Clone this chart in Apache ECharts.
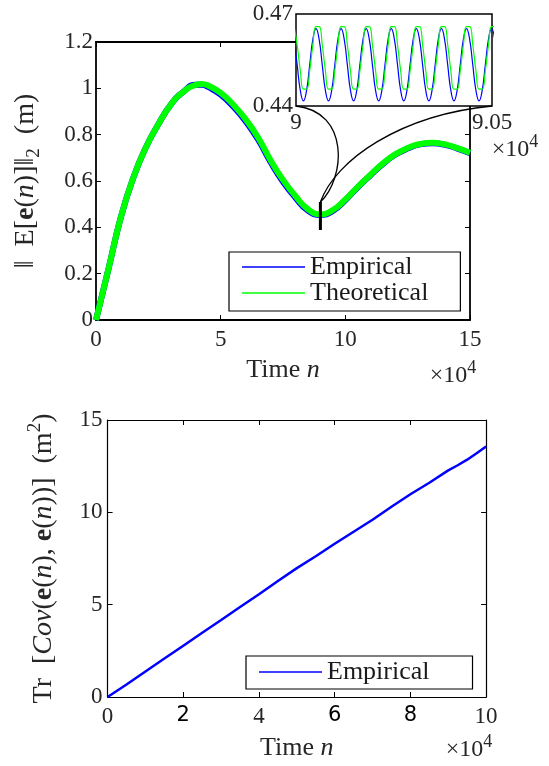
<!DOCTYPE html>
<html><head><meta charset="utf-8">
<script src="https://cdn.jsdelivr.net/npm/echarts@6/dist/echarts.min.js"></script>
<style>html,body{margin:0;padding:0;background:#fff}#c{width:549px;height:766px}</style>
</head><body><div id="c"></div>
<script>
// ---------- data ----------
const mainN = [0, 2500, 5000, 10000, 15000, 20000, 25000, 30000, 35000, 40000, 42500, 45000, 50000, 55000, 60000, 65000, 70000, 75000, 80000, 85000, 90000, 95000, 100000, 105000, 110000, 115000, 120000, 125000, 130000, 135000, 140000, 145000, 150000];
const theoretical = [0, 0.11, 0.22, 0.445, 0.615, 0.745, 0.845, 0.93, 0.985, 1.015, 1.019, 1.012, 0.98, 0.93, 0.867, 0.788, 0.69, 0.605, 0.535, 0.478, 0.456, 0.475, 0.52, 0.575, 0.626, 0.675, 0.715, 0.742, 0.76, 0.765, 0.758, 0.742, 0.722];
const empirical = [0, 0.11, 0.22, 0.445, 0.615, 0.745, 0.845, 0.93, 0.985, 1.016, 1.016, 1.006, 0.973, 0.922, 0.858, 0.779, 0.682, 0.597, 0.528, 0.472, 0.453, 0.471, 0.517, 0.573, 0.624, 0.673, 0.713, 0.74, 0.758, 0.763, 0.756, 0.74, 0.72];

const insetN = [89995, 90003, 90011, 90019, 90027, 90035, 90043, 90051,
  90059, 90067, 90075, 90083, 90091, 90099, 90107, 90115,
  90123, 90131, 90139, 90147, 90155, 90163, 90171, 90179,
  90187, 90195, 90203, 90211, 90219, 90227, 90235, 90243,
  90251, 90259, 90267, 90275, 90283, 90291, 90299, 90307,
  90315, 90323, 90331, 90339, 90347, 90355, 90363, 90371,
  90379, 90387, 90395, 90403, 90411, 90419, 90427, 90435,
  90443, 90451, 90459, 90467, 90475, 90483, 90491, 90499, 90507];
const insetEmpirical = [0.4617, 0.4534, 0.4451, 0.4417, 0.4451, 0.4534, 0.4617, 0.4652,
  0.4617, 0.4534, 0.4451, 0.4417, 0.4451, 0.4534, 0.4617, 0.4652,
  0.4617, 0.4534, 0.4451, 0.4417, 0.4451, 0.4534, 0.4617, 0.4652,
  0.4617, 0.4534, 0.4451, 0.4417, 0.4451, 0.4534, 0.4617, 0.4652,
  0.4617, 0.4534, 0.4451, 0.4417, 0.4451, 0.4534, 0.4617, 0.4652,
  0.4617, 0.4534, 0.4451, 0.4417, 0.4451, 0.4534, 0.4617, 0.4652,
  0.4617, 0.4534, 0.4451, 0.4417, 0.4451, 0.4534, 0.4617, 0.4652,
  0.4617, 0.4534, 0.4451, 0.4417, 0.4451, 0.4534, 0.4617, 0.4652, 0.4617];
const insetTheoretical = [0.4659, 0.4599, 0.4515, 0.4455, 0.4455, 0.4515, 0.4599, 0.4659,
  0.4659, 0.4599, 0.4515, 0.4455, 0.4455, 0.4515, 0.4599, 0.4659,
  0.4659, 0.4599, 0.4515, 0.4455, 0.4455, 0.4515, 0.4599, 0.4659,
  0.4659, 0.4599, 0.4515, 0.4455, 0.4455, 0.4515, 0.4599, 0.4659,
  0.4659, 0.4599, 0.4515, 0.4455, 0.4455, 0.4515, 0.4599, 0.4659,
  0.4659, 0.4599, 0.4515, 0.4455, 0.4455, 0.4515, 0.4599, 0.4659,
  0.4659, 0.4599, 0.4515, 0.4455, 0.4455, 0.4515, 0.4599, 0.4659,
  0.4659, 0.4599, 0.4515, 0.4455, 0.4455, 0.4515, 0.4599, 0.4659, 0.4659];

const zoomMarkN = [90000, 90000];
const zoomMarkV = [0.388, 0.509];

const covN = [0, 5000, 10000, 15000, 20000, 25000, 30000, 35000, 40000, 45000, 50000, 55000, 60000, 65000, 70000, 75000, 80000, 85000, 90000, 92500, 95000, 97500, 100000];
const covEmpirical = [0, 0.68, 1.38, 2.08, 2.78, 3.48, 4.17, 4.87, 5.56, 6.28, 6.98, 7.62, 8.3, 8.95, 9.6, 10.3, 10.98, 11.6, 12.27, 12.55, 12.85, 13.2, 13.56];

const topXLabels = ['0', '5', '10', '15'];
const topYLabels = ['0', '0.2', '0.4', '0.6', '0.8', '1', '1.2'];
const insetXLabels = ['9', '9.05'];
const insetYLabels = ['0.44', '', '', '0.47'];
const botXLabels = ['0', '2', '4', '6', '8', '10'];
const botXSansLabels = ['2', '6', '8'];
const botYLabels = ['0', '5', '10', '15'];

// ---------- helpers ----------
const SERIF = 'Liberation Serif';
const TXT = '#262626';
const pairs = (xs, ys) => xs.map((x, i) => [x, ys[i]]);
function richFor(fs, lh) {
  return {
    b: { fontFamily: SERIF, fontSize: fs, fontWeight: 'bold', color: TXT, lineHeight: lh },
    i: { fontFamily: SERIF, fontSize: fs, fontStyle: 'italic', color: TXT, lineHeight: lh },
    sub: { fontFamily: SERIF, fontSize: Math.round(fs * 0.68), color: TXT, verticalAlign: 'bottom', lineHeight: Math.round(fs * 0.68) },
    sup: { fontFamily: SERIF, fontSize: Math.round(fs * 0.68), color: TXT, verticalAlign: 'top', lineHeight: Math.round(fs * 0.68) }
  };
}
const xNameStyle = { fontFamily: SERIF, fontSize: 26, color: TXT, lineHeight: 34, rich: richFor(26, 34) };
const yNameStyle = { fontFamily: SERIF, fontSize: 28, color: TXT, lineHeight: 36, rich: richFor(28, 36) };
const labStyle = { fontFamily: SERIF, fontSize: 23, color: TXT };

function mirrorX(grid, min, max, interval, lw) {
  return { type: 'value', gridIndex: grid, position: 'top', min, max, interval,
    axisLine: { show: true, onZero: false, lineStyle: { color: '#000', width: lw } },
    axisTick: { show: true, inside: true, length: 5, lineStyle: { color: '#000', width: 1 } },
    axisLabel: { show: false }, splitLine: { show: false } };
}
function mirrorY(grid, min, max, interval, lw) {
  return { type: 'value', gridIndex: grid, position: 'right', min, max, interval,
    axisLine: { show: true, onZero: false, lineStyle: { color: '#000', width: lw } },
    axisTick: { show: true, inside: true, length: 5, lineStyle: { color: '#000', width: 1 } },
    axisLabel: { show: false }, splitLine: { show: false } };
}

const chart = echarts.init(document.getElementById('c'), null, { renderer: 'canvas' });

const option = {
  backgroundColor: '#fff',
  animation: false,
  grid: [
    { left: 96, top: 42, width: 374, height: 278 },
    { left: 296, top: 14, width: 196, height: 92, show: true, backgroundColor: '#fff', borderColor: '#000', borderWidth: 1.5, z: 5 },
    { left: 107.6, top: 420, width: 378.5, height: 278 }
  ],
  xAxis: [
    { type: 'value', gridIndex: 0, min: 0, max: 150000, interval: 50000,
      axisLine: { show: true, onZero: false, lineStyle: { color: '#000', width: 1.8 } },
      axisTick: { show: true, inside: true, length: 5, lineStyle: { color: '#000', width: 1 } },
      axisLabel: { ...labStyle, margin: 8, showMinLabel: true, showMaxLabel: true, formatter: (v, i) => topXLabels[i] },
      splitLine: { show: false },
      name: 'Time {i|n}', nameLocation: 'middle', nameGap: 33, nameTextStyle: xNameStyle },
    mirrorX(0, 0, 150000, 50000, 1.8),
    { type: 'value', gridIndex: 1, min: 90000, max: 90500, interval: 500, z: 6,
      axisLine: { show: false, onZero: false }, axisTick: { show: false }, splitLine: { show: false },
      axisLabel: { ...labStyle, margin: 5, showMinLabel: true, showMaxLabel: true, formatter: (v, i) => insetXLabels[i] } },
    { type: 'value', gridIndex: 2, min: 0, max: 100000, interval: 20000,
      axisLine: { show: true, onZero: false, lineStyle: { color: '#000', width: 1.2 } },
      axisTick: { show: true, inside: true, length: 5, lineStyle: { color: '#000', width: 1 } },
      axisLabel: { ...labStyle, margin: 8, showMinLabel: true, showMaxLabel: true,
        formatter: (v, i) => botXSansLabels.includes(botXLabels[i]) ? '{s|' + botXLabels[i] + '}' : botXLabels[i],
        rich: { s: { fontFamily: 'DejaVu Sans', fontSize: 21, color: '#000' } } },
      splitLine: { show: false },
      name: 'Time {i|n}', nameLocation: 'middle', nameGap: 34, nameTextStyle: xNameStyle },
    mirrorX(2, 0, 100000, 20000, 1.2)
  ],
  yAxis: [
    { type: 'value', gridIndex: 0, min: 0, max: 1.2, interval: 0.2,
      axisLine: { show: true, onZero: false, lineStyle: { color: '#000', width: 1.8 } },
      axisTick: { show: true, inside: true, length: 5, lineStyle: { color: '#000', width: 1 } },
      axisLabel: { ...labStyle, margin: 3, showMinLabel: true, showMaxLabel: true, formatter: (v, i) => topYLabels[i] },
      splitLine: { show: false },
      name: '‖  E[{b|e}({i|n})]‖{sub|2}  (m)', nameLocation: 'middle', nameGap: 52, nameRotate: 90, nameTextStyle: yNameStyle },
    mirrorY(0, 0, 1.2, 0.2, 1.8),
    { type: 'value', gridIndex: 1, min: 0.44, max: 0.47, interval: 0.01, z: 6,
      axisLine: { show: false, onZero: false }, axisTick: { show: false }, splitLine: { show: false },
      axisLabel: { ...labStyle, margin: 3, showMinLabel: true, showMaxLabel: true, formatter: (v, i) => insetYLabels[i] || '' } },
    { type: 'value', gridIndex: 2, min: 0, max: 15, interval: 5,
      axisLine: { show: true, onZero: false, lineStyle: { color: '#000', width: 1.2 } },
      axisTick: { show: true, inside: true, length: 5, lineStyle: { color: '#000', width: 1 } },
      axisLabel: { ...labStyle, margin: 5, showMinLabel: true, showMaxLabel: true, formatter: (v, i) => botYLabels[i] },
      splitLine: { show: false },
      name: 'Tr  [{i|Cov}({b|e}({i|n}), {b|e}({i|n}))]  (m{sup|2})', nameLocation: 'middle', nameGap: 46, nameRotate: 90, nameTextStyle: yNameStyle },
    mirrorY(2, 0, 15, 5, 1.2)
  ],
  legend: [
    { left: 229, top: 252, orient: 'vertical', data: ['Empirical', 'Theoretical'], icon: 'rect',
      itemWidth: 63, itemHeight: 1.5, itemGap: 0, padding: [2, 32, 5, 13], selectedMode: false,
      backgroundColor: '#fff', borderColor: '#000', borderWidth: 1.2,
      textStyle: { fontFamily: SERIF, fontSize: 26, lineHeight: 26, color: '#1a1a1a' } },
    { left: 246, top: 656, orient: 'vertical', data: ['Empirical'], icon: 'rect',
      itemWidth: 63, itemHeight: 1.5, itemGap: 0, padding: [3, 43, 4, 13], selectedMode: false,
      backgroundColor: '#fff', borderColor: '#000', borderWidth: 1.2,
      textStyle: { fontFamily: SERIF, fontSize: 26, lineHeight: 26, color: '#1a1a1a' } }
  ],
  series: [
    { name: 'Empirical', type: 'line', xAxisIndex: 0, yAxisIndex: 0, data: pairs(mainN, empirical),
      smooth: true, symbol: 'none', color: '#0000ff', lineStyle: { width: 6, color: '#0000ff' }, z: 2 },
    { name: 'Theoretical', type: 'line', xAxisIndex: 0, yAxisIndex: 0, data: pairs(mainN, theoretical),
      smooth: true, symbol: 'none', color: '#00ff00', lineStyle: { width: 6, color: '#00ff00' }, z: 3 },
    { name: 'zoom-mark', type: 'line', xAxisIndex: 0, yAxisIndex: 0, data: pairs(zoomMarkN, zoomMarkV),
      symbol: 'none', lineStyle: { width: 3, color: '#000' }, z: 4 },
    { name: 'inset-emp', type: 'line', xAxisIndex: 2, yAxisIndex: 2, data: pairs(insetN, insetEmpirical),
      smooth: true, symbol: 'none', lineStyle: { width: 1.2, color: '#0000ff' }, z: 7 },
    { name: 'inset-theo', type: 'line', xAxisIndex: 2, yAxisIndex: 2, data: pairs(insetN, insetTheoretical),
      smooth: true, symbol: 'none', lineStyle: { width: 1.2, color: '#00ff00' }, z: 8 },
    { name: 'Empirical', type: 'line', xAxisIndex: 3, yAxisIndex: 3, data: pairs(covN, covEmpirical),
      symbol: 'none', color: '#0000ff', lineStyle: { width: 2.5, color: '#0000ff' }, z: 2 }
  ]
};
chart.setOption(option);

// connector curves and exponent annotations
const bl = chart.convertToPixel({ xAxisIndex: 2, yAxisIndex: 2 }, [90000, 0.44]);
const br = chart.convertToPixel({ xAxisIndex: 2, yAxisIndex: 2 }, [90500, 0.44]);
const mt = chart.convertToPixel({ xAxisIndex: 0, yAxisIndex: 0 }, [zoomMarkN[1], zoomMarkV[1]]);
const expRich = {
  sup: { fontFamily: SERIF, fontSize: 18, fill: TXT, verticalAlign: 'top', lineHeight: 18 }
};
function expText(x, y) {
  return { type: 'text', z: 100, x, y,
    style: { text: '×10{sup|4}', fontFamily: SERIF, fontSize: 24, fill: TXT, lineHeight: 34, rich: expRich, align: 'center', verticalAlign: 'middle' } };
}
chart.setOption({
  graphic: [
    { type: 'bezierCurve', z: 100, shape: { x1: bl[0], y1: bl[1], cpx1: bl[0] + 54, cpy1: bl[1] + 6, cpx2: mt[0] + 25, cpy2: mt[1] - 24, x2: mt[0], y2: mt[1] },
      style: { stroke: '#000', lineWidth: 1.3, fill: null } },
    { type: 'bezierCurve', z: 100, shape: { x1: br[0], y1: br[1], cpx1: br[0] - 92, cpy1: br[1] + 9, cpx2: mt[0] + 15, cpy2: mt[1] - 42, x2: mt[0], y2: mt[1] },
      style: { stroke: '#000', lineWidth: 1.3, fill: null } },
    expText(453, 376),
    expText(515, 150),
    expText(469, 750)
  ]
});
</script></body></html>
